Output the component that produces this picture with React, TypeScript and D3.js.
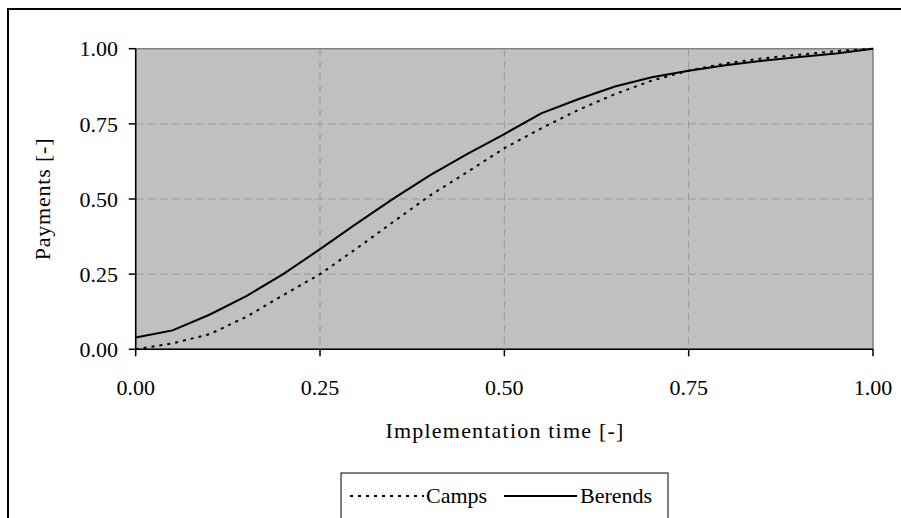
import React from "react";
import * as d3 from "d3";

const timeValues = [0, 0.05, 0.1, 0.15, 0.2, 0.25, 0.3, 0.35, 0.4, 0.45, 0.5, 0.55, 0.6, 0.65, 0.7, 0.75, 0.8, 0.85, 0.9, 0.95, 1.0];
const campsValues = [0.0, 0.02, 0.05, 0.108, 0.18, 0.25, 0.336, 0.425, 0.513, 0.59, 0.669, 0.735, 0.796, 0.849, 0.894, 0.927, 0.951, 0.968, 0.98, 0.992, 1.0];
const berendsValues = [0.039, 0.063, 0.115, 0.177, 0.25, 0.333, 0.419, 0.502, 0.58, 0.65, 0.716, 0.785, 0.832, 0.874, 0.905, 0.927, 0.945, 0.96, 0.972, 0.984, 1.0];
const tickValues = [0, 0.25, 0.5, 0.75, 1.0];
const seriesNames = ["Camps", "Berends"];
const xTitle = "Implementation time [-]";
const yTitle = "Payments [-]";

const W = 901;
const H = 518;
const plot = { left: 135.7, right: 873, top: 48.7, bottom: 349.3 };
const FONT = "'Liberation Serif', 'Times New Roman', 'DejaVu Serif', serif";
const textStyle = { fontFamily: FONT, fontSize: "22px" };

export default function App() {
  const x = d3.scaleLinear().domain([0, 1]).range([plot.left, plot.right]);
  const y = d3.scaleLinear().domain([0, 1]).range([plot.bottom, plot.top]);
  const line = d3
    .line<[number, number]>()
    .x((d) => x(d[0]))
    .y((d) => y(d[1]));
  const camps = timeValues.map((t, i) => [t, campsValues[i]] as [number, number]);
  const berends = timeValues.map((t, i) => [t, berendsValues[i]] as [number, number]);
  const fmt = d3.format(".2f");
  const inner = tickValues.filter((v) => v > 0 && v < 1);

  return (
    <svg
      width={W}
      height={H}
      style={{ position: "absolute", left: 0, top: 0, background: "#fff" }}
    >
      <rect x={0} y={0} width={W} height={H} fill="#fff" />
      <rect x={8} y={9} width={W + 20} height={H + 20} fill="none" stroke="#000" strokeWidth={2} />
      <rect
        x={plot.left}
        y={plot.top}
        width={plot.right - plot.left}
        height={plot.bottom - plot.top}
        fill="#c0c0c0"
        stroke="#808080"
        strokeWidth={1.5}
      />
      {inner.map((v) => (
        <g key={"g" + v}>
          <line x1={x(v)} x2={x(v)} y1={plot.top} y2={plot.bottom} stroke="#999" strokeWidth={1} strokeDasharray="8,4" />
          <line x1={plot.left} x2={plot.right} y1={y(v)} y2={y(v)} stroke="#999" strokeWidth={1} strokeDasharray="8,4" />
        </g>
      ))}
      <line x1={plot.left} x2={plot.left} y1={plot.top} y2={plot.bottom} stroke="#000" strokeWidth={1.5} />
      <line x1={plot.left} x2={plot.right} y1={plot.bottom} y2={plot.bottom} stroke="#000" strokeWidth={1.5} />
      {tickValues.map((v) => (
        <g key={"t" + v}>
          <line x1={plot.left - 7} x2={plot.left} y1={y(v)} y2={y(v)} stroke="#000" strokeWidth={1.5} />
          <line x1={x(v)} x2={x(v)} y1={plot.bottom} y2={plot.bottom + 7} stroke="#000" strokeWidth={1.5} />
          <text x={118} y={y(v)} dy="0.35em" textAnchor="end" style={textStyle} fill="#000">
            {fmt(v)}
          </text>
          <text x={x(v)} y={395} textAnchor="middle" style={textStyle} fill="#000">
            {fmt(v)}
          </text>
        </g>
      ))}
      <path d={line(camps) || ""} fill="none" stroke="#000" strokeWidth={2} strokeDasharray="3,5" />
      <path d={line(berends) || ""} fill="none" stroke="#000" strokeWidth={2} />
      <text x={505} y={438} textAnchor="middle" style={{ ...textStyle, letterSpacing: "1.2px" }} fill="#000">
        {xTitle}
      </text>
      <text
        transform={`translate(50, 199) rotate(-90)`}
        textAnchor="middle"
        style={{ ...textStyle, letterSpacing: "0.8px" }}
        fill="#000"
      >
        {yTitle}
      </text>
      <rect x={341} y={473} width={327} height={60} fill="#fff" stroke="#000" strokeWidth={1} />
      <line x1={350} x2={424} y1={496} y2={496} stroke="#000" strokeWidth={2} strokeDasharray="3,5" />
      <text x={426} y={503} style={textStyle} fill="#000">{seriesNames[0]}</text>
      <line x1={504} x2={577} y1={496} y2={496} stroke="#000" strokeWidth={2} />
      <text x={580} y={503} style={textStyle} fill="#000">{seriesNames[1]}</text>
    </svg>
  );
}
